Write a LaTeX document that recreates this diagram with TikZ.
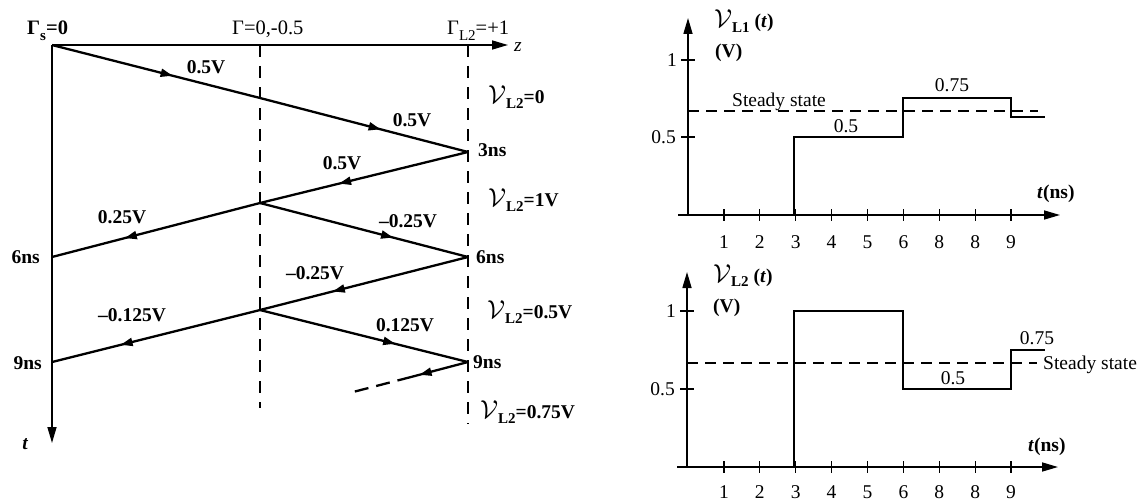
\documentclass[tikz,border=0pt]{standalone}
\usepackage{graphicx}
\usepackage{fontspec}
\setmainfont{Liberation Serif}
\usetikzlibrary{arrows.meta,decorations.markings}
\newcommand\lsub[1]{\raisebox{-0.55ex}{\fontsize{15}{15}\selectfont #1}}
\newcommand\SV{\scalebox{1.25}{$\mathcal{V}$}}
\tikzset{
  wave/.style={line width=2.3pt},
  axisline/.style={line width=1.6pt},
  guide/.style={line width=1.5pt,dash pattern=on 12pt off 9pt},
  signal/.style={line width=2.3pt,line join=miter},
  steady/.style={line width=2pt,dash pattern=on 11pt off 7pt},
  tickmark/.style={line width=1.3pt},
  lbl/.style={inner sep=0pt,font=\fontsize{19.5}{22}\selectfont},
  glbl/.style={inner sep=0pt,font=\fontsize{20.5}{22}\selectfont},
  blbl/.style={lbl,font=\fontsize{19.5}{22}\selectfont\bfseries},
  bigtip/.style={-{Triangle[length=16pt,width=9pt]}},
  midarrow/.style={postaction={decorate},decoration={markings,
      mark=at position #1 with {\arrow{Triangle[length=12pt,width=8pt]}}}},
}
\begin{document}
\begin{tikzpicture}[x=1pt,y=-1pt]
\useasboundingbox (0,0) rectangle (1145,503);
% ---------------- lattice diagram ----------------
\coordinate (A0) at (52,45);
\coordinate (zEnd) at (508,45);
\coordinate (tEnd) at (52,443);
\coordinate (GmTop) at (260,45);
\coordinate (GmBot) at (260,408);
\coordinate (GrTop) at (468,45);
\coordinate (GrBot) at (468,424);
\coordinate (M1) at (260,98);
\coordinate (R1) at (468,152);
\coordinate (M2) at (260,203);
\coordinate (L1) at (52,257);
\coordinate (R2) at (468,257);
\coordinate (M3) at (260,310);
\coordinate (L2) at (52,362);
\coordinate (R3) at (468,362);
\coordinate (D1) at (411,377);
\coordinate (D2) at (353,392);

\draw[guide] (GmTop) -- (GmBot);
\draw[guide] (GrTop) -- (GrBot);
\draw[axisline,bigtip] (A0) -- (zEnd);
\draw[axisline,bigtip] (A0) -- (tEnd);

\draw[wave,midarrow=0.58] (A0) -- (M1);
\draw[wave,midarrow=0.58] (M1) -- (R1);
\draw[wave,midarrow=0.62] (R1) -- (M2);
\draw[wave,midarrow=0.65] (M2) -- (L1);
\draw[wave,midarrow=0.64] (M2) -- (R2);
\draw[wave,midarrow=0.65] (R2) -- (M3);
\draw[wave,midarrow=0.67] (M3) -- (L2);
\draw[wave,midarrow=0.65] (M3) -- (R3);
\draw[wave,midarrow=0.85] (R3) -- (D1);
\draw[wave,dash pattern=on 14pt off 8pt] (D1) -- (D2);

\node[blbl,anchor=base west,font=\fontsize{20.5}{22}\selectfont\bfseries] (gs) at (27,35) {Γ\lsub{s}=0};
\node[glbl,anchor=base west] (gm) at (232,35) {Γ=0,-0.5};
\node[glbl,anchor=base west] (gl) at (447,35) {Γ\lsub{L2}=+1};
\node[lbl,anchor=west] (zl) at (514,47) {\itshape z};
\node[lbl,anchor=base] (tl) at (25,449) {\itshape\bfseries t};

\node[blbl] (w1) at (206,67) {0.5V};
\node[blbl] (w2) at (412,120) {0.5V};
\node[blbl] (w3) at (342,163) {0.5V};
\node[blbl] (w4) at (122,217) {0.25V};
\node[blbl] (w5) at (408,221) {–0.25V};
\node[blbl] (w6) at (315,273) {–0.25V};
\node[blbl] (w7) at (132,315) {–0.125V};
\node[blbl] (w8) at (405,325) {0.125V};

\node[blbl,anchor=west] (n3) at (478,150) {3ns};
\node[blbl,anchor=west] (n6r) at (476,257) {6ns};
\node[blbl,anchor=east] (n6l) at (40,257) {6ns};
\node[blbl,anchor=west] (n9r) at (473,362) {9ns};
\node[blbl,anchor=east] (n9l) at (42,363) {9ns};

\node[blbl,anchor=west] (v0) at (488,97) {\SV\lsub{L2}=0};
\node[blbl,anchor=west] (v1) at (488,200) {\SV\lsub{L2}=1V};
\node[blbl,anchor=west] (v2) at (487,312) {\SV\lsub{L2}=0.5V};
\node[blbl,anchor=west] (v3) at (480,412) {\SV\lsub{L2}=0.75V};

% ---------------- upper plot ----------------
\coordinate (U0) at (688,215);
\coordinate (UxS) at (678,215);
\coordinate (UxE) at (1060,215);
\coordinate (UyE) at (688,18);
\draw[axisline,bigtip] (UxS) -- (UxE);
\draw[axisline,bigtip] (U0) -- (UyE);
\draw[tickmark] (681,60) -- (695,60);
\draw[tickmark] (681,137) -- (695,137);
\node[lbl,anchor=east] (u1) at (677,60) {1};
\node[lbl,anchor=east] (u05) at (676,137) {0.5};
\foreach \i/\lab in {1/1,2/2,3/3,4/4,5/5,6/6,7/8,8/8,9/9}{
  \draw[tickmark] (688+35.9*\i,209) -- (688+35.9*\i,221);
  \node[lbl] (ut\i) at (688+35.9*\i,242) {\lab};
}
\draw[steady] (688,111) -- (1038,111);
\draw[signal] (U0) -- (794,215) -- (794,137) -- (903,137) -- (903,98) -- (1011,98) -- (1011,117) -- (1045,117);
\node[lbl,anchor=base] (uss) at (779,106) {Steady state};
\node[lbl,anchor=base] (uv05) at (846,132) {0.5};
\node[lbl,anchor=base] (uv075) at (952,92) {0.75};
\node[blbl,anchor=base west] (uylab) at (714,28) {\SV\lsub{L1} (\textit{t})};
\node[blbl,anchor=base west] (uyunit) at (715,57) {(V)};
\node[blbl,anchor=base west] (uxlab) at (1037,198) {\textit{t}(ns)};

% ---------------- lower plot ----------------
\coordinate (B0) at (687,467);
\coordinate (BxS) at (677,467);
\coordinate (BxE) at (1058,467);
\coordinate (ByE) at (687,272);
\draw[axisline,bigtip] (BxS) -- (BxE);
\draw[axisline,bigtip] (B0) -- (ByE);
\draw[tickmark] (680,311) -- (694,311);
\draw[tickmark] (680,389) -- (694,389);
\node[lbl,anchor=east] (b1) at (676,311) {1};
\node[lbl,anchor=east] (b05) at (675,389) {0.5};
\foreach \i/\lab in {1/1,2/2,3/3,4/4,5/5,6/6,7/8,8/8,9/9}{
  \draw[tickmark] (688+35.9*\i,461) -- (688+35.9*\i,473);
  \node[lbl] (bt\i) at (688+35.9*\i,492) {\lab};
}
\draw[steady] (687,363) -- (1037,363);
\draw[signal] (B0) -- (794,467) -- (794,311) -- (903,311) -- (903,389) -- (1011,389) -- (1011,350) -- (1045,350);
\node[lbl,anchor=west] (bss) at (1043,365) {Steady state};
\node[lbl,anchor=base] (bv075) at (1037,344) {0.75};
\node[lbl,anchor=base] (bv05) at (953,384) {0.5};
\node[blbl,anchor=base west] (bylab) at (713,282) {\SV\lsub{L2} (\textit{t})};
\node[blbl,anchor=base west] (byunit) at (713,312) {(V)};
\node[blbl,anchor=base west] (bxlab) at (1028,451) {\textit{t}(ns)};
\end{tikzpicture}
\end{document}
